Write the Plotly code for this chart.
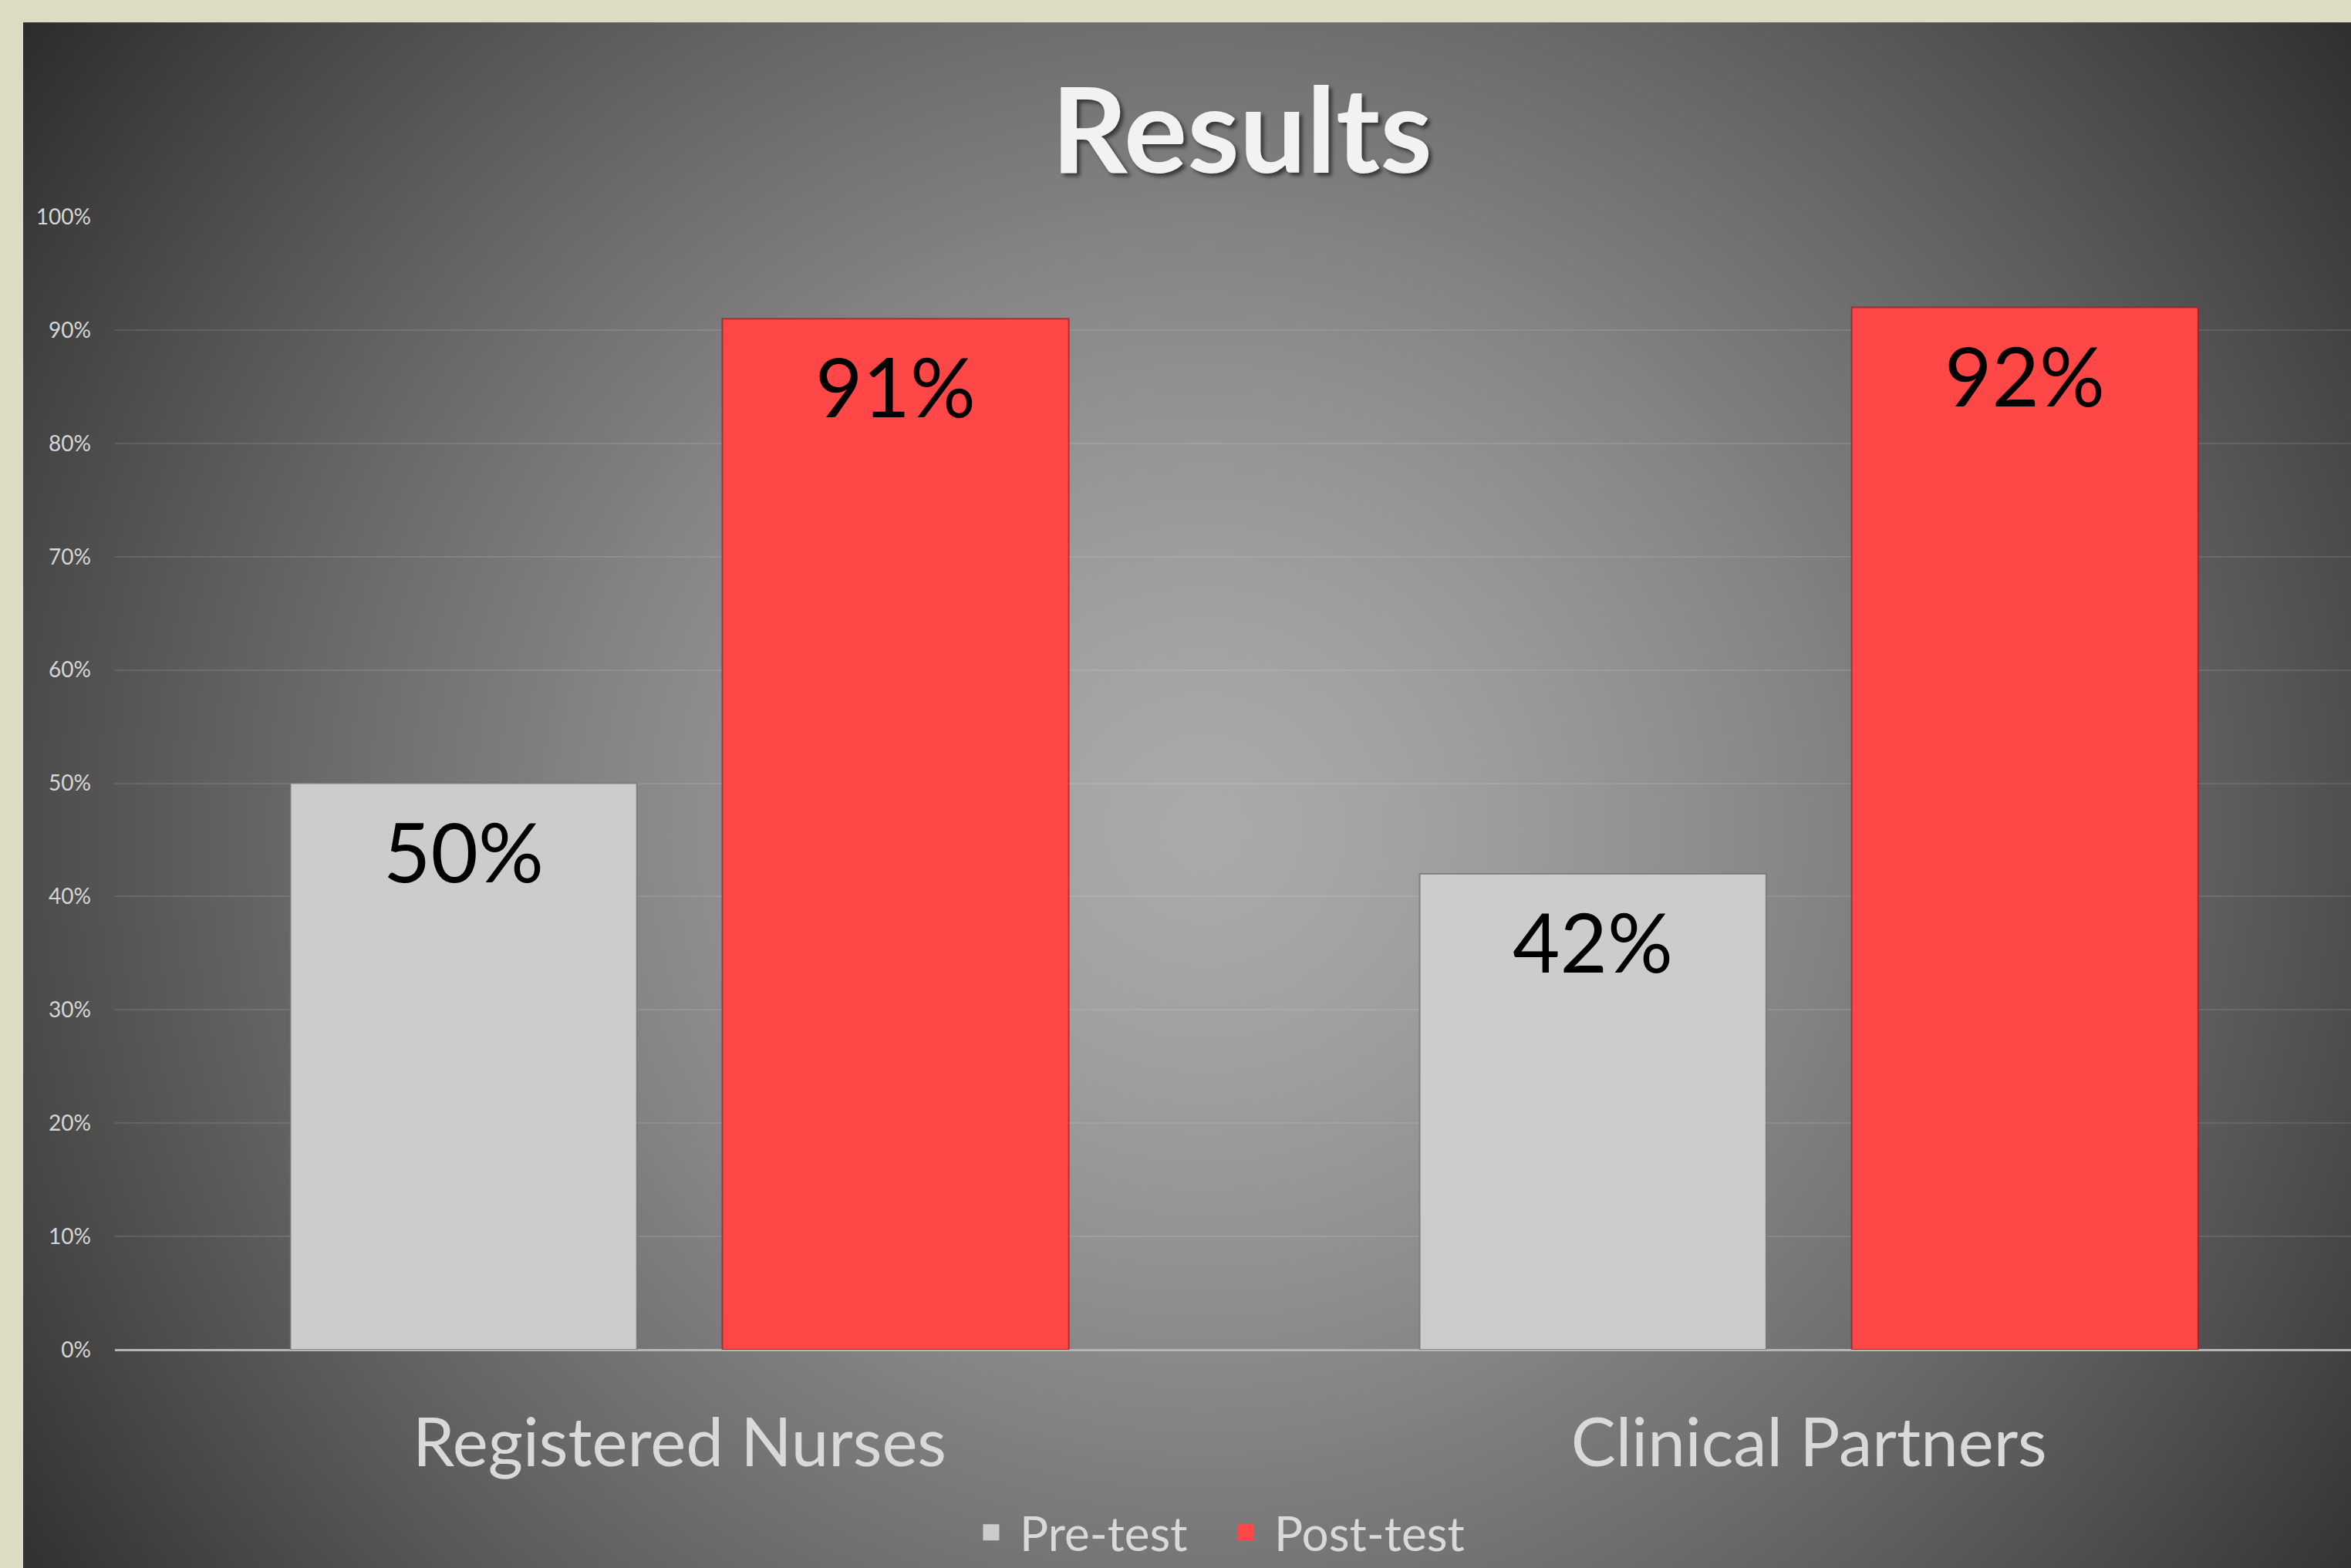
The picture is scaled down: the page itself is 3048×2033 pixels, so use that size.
import base64
import struct
import zlib

import numpy as np
import plotly.graph_objects as go

# ---------------- data ----------------
categories = ["Registered Nurses", "Clinical Partners"]
series_names = ["Pre-test", "Post-test"]
pre_test = [0.50, 0.42]
post_test = [0.91, 0.92]
series_values = [pre_test, post_test]
series_colors = ["#cccccc", "#ff4747"]
series_lines = ["rgba(110,110,110,0.7)", "rgba(140,20,20,0.6)"]
y_ticks = [i / 10 for i in range(11)]
title_text = "Results"

# ---------------- geometry (pixels) ----------------
W, H = 3048, 2033
PL, PR, PT, PB = 149, 3048, 281, 1750  # plot area box
pw, ph = PR - PL, PB - PT
X_RANGE = [-0.5, 1.48]
BARGAP, BARGROUPGAP = 0.235, 0.198


def px_to_paper_x(px):
    return (px - PL) / pw


def px_to_paper_y(py):
    return (PB - py) / ph


# ---------------- background gradient image ----------------
def make_png(arr):
    h, w, _ = arr.shape
    raw = b"".join(b"\x00" + arr[j].tobytes() for j in range(h))

    def chunk(tag, data):
        return (struct.pack(">I", len(data)) + tag + data
                + struct.pack(">I", zlib.crc32(tag + data) & 0xFFFFFFFF))

    return (b"\x89PNG\r\n\x1a\n"
            + chunk(b"IHDR", struct.pack(">IIBBBBB", w, h, 8, 2, 0, 0, 0))
            + chunk(b"IDAT", zlib.compress(raw, 9))
            + chunk(b"IEND", b""))


BX0, BY0 = 30, 29
step = 4
gw, gh = (W - BX0) // step, (H - BY0) // step
xs = BX0 + (np.arange(gw) + 0.5) * step
ys = BY0 + (np.arange(gh) + 0.5) * step
XX, YY = np.meshgrid(xs, ys)
dx = (XX - 1560) / 1350
dy = (YY - 1075) / 1300
t = np.sqrt(dx ** 2 + dy ** 2)
v = np.clip(170 - 79 * t ** 1.4, 34, 255).astype(np.uint8)
img = np.stack([v, v, v], axis=-1)
src = "data:image/png;base64," + base64.b64encode(make_png(img)).decode()

# ---------------- figure ----------------
fig = go.Figure()
for name, vals, col, lc in zip(series_names, series_values, series_colors, series_lines):
    fig.add_trace(go.Bar(
        name=name,
        x=categories,
        y=vals,
        legendgroup=name,
        showlegend=False,
        marker=dict(color=col, line=dict(color=lc, width=2)),
        hoverinfo="skip",
    ))
# legend entries (larger square swatches), linked to the bars by legendgroup
for name, col in zip(series_names, series_colors):
    fig.add_trace(go.Scatter(
        name=name,
        x=[categories[0]],
        y=[None],
        mode="markers",
        legendgroup=name,
        showlegend=True,
        marker=dict(symbol="square", size=16, color=col,
                    line=dict(color=col, width=5)),
        hoverinfo="skip",
    ))

# value labels, placed inside the top of each bar (offset follows the bar slot width)
cat_px = pw / (X_RANGE[1] - X_RANGE[0])
slot_px = cat_px * (1 - BARGAP) / len(series_names)
annotations = []
for si, vals in enumerate(series_values):
    for cat, val in zip(categories, vals):
        annotations.append(dict(
            x=cat, y=val, xref="x", yref="y",
            text=f"{round(val * 100)}%",
            showarrow=False,
            xanchor="center", yanchor="middle",
            xshift=(si - (len(series_names) - 1) / 2) * slot_px,
            yshift=-87,
            font=dict(family="Lato, sans-serif", size=106, color="#000000"),
        ))

fig.update_layout(
    width=W,
    height=H,
    margin=dict(l=PL, r=W - PR, t=PT, b=H - PB, pad=0, autoexpand=False),
    paper_bgcolor="#dcdcc4",
    plot_bgcolor="rgba(0,0,0,0)",
    barmode="group",
    bargap=BARGAP,
    bargroupgap=BARGROUPGAP,
    font=dict(family="Lato, Carlito, sans-serif", color="#d9d9d9"),
    title=dict(
        text=f"<b>{title_text}</b>",
        x=px_to_paper_x(1610),
        xref="paper",
        xanchor="center",
        y=1 - 170 / H,
        yref="container",
        yanchor="middle",
        font=dict(family="Lato, sans-serif", size=154, color="#f2f2f2",
                  shadow="4px 4px 5px rgba(0,0,0,0.55)"),
    ),
    xaxis=dict(
        type="category",
        range=X_RANGE,
        showgrid=False,
        showline=False,
        zeroline=False,
        ticks="",
        tickfont=dict(family="Lato, sans-serif", size=87, color="#d9d9d9"),
        ticklabelstandoff=63,
        automargin=False,
    ),
    yaxis=dict(
        range=[0, 1],
        tickvals=y_ticks,
        tickformat=".0%",
        showgrid=True,
        gridcolor="rgba(255,255,255,0.10)",
        gridwidth=2,
        zeroline=True,
        zerolinecolor="#b5b5b5",
        zerolinewidth=3,
        showline=False,
        ticks="",
        tickfont=dict(family="Lato, sans-serif", size=28, color="#d6d6d6"),
        ticklabelstandoff=30,
        automargin=False,
    ),
    legend=dict(
        orientation="h",
        x=px_to_paper_x(1248),
        xanchor="left",
        y=px_to_paper_y(1987),
        yanchor="middle",
        font=dict(family="Lato, sans-serif", size=62, color="#d9d9d9"),
        bgcolor="rgba(0,0,0,0)",
        itemwidth=64,
        entrywidth=251,
        entrywidthmode="pixels",
    ),
    showlegend=True,
    annotations=annotations,
    images=[dict(
        source=src,
        xref="paper",
        yref="paper",
        x=px_to_paper_x(BX0),
        y=px_to_paper_y(BY0),
        sizex=(W - BX0) / pw,
        sizey=(H - BY0) / ph,
        xanchor="left",
        yanchor="top",
        sizing="stretch",
        layer="below",
    )],
)

fig.write_html("out.html", config={"displayModeBar": False},
               post_script="document.body.style.margin='0px';")
